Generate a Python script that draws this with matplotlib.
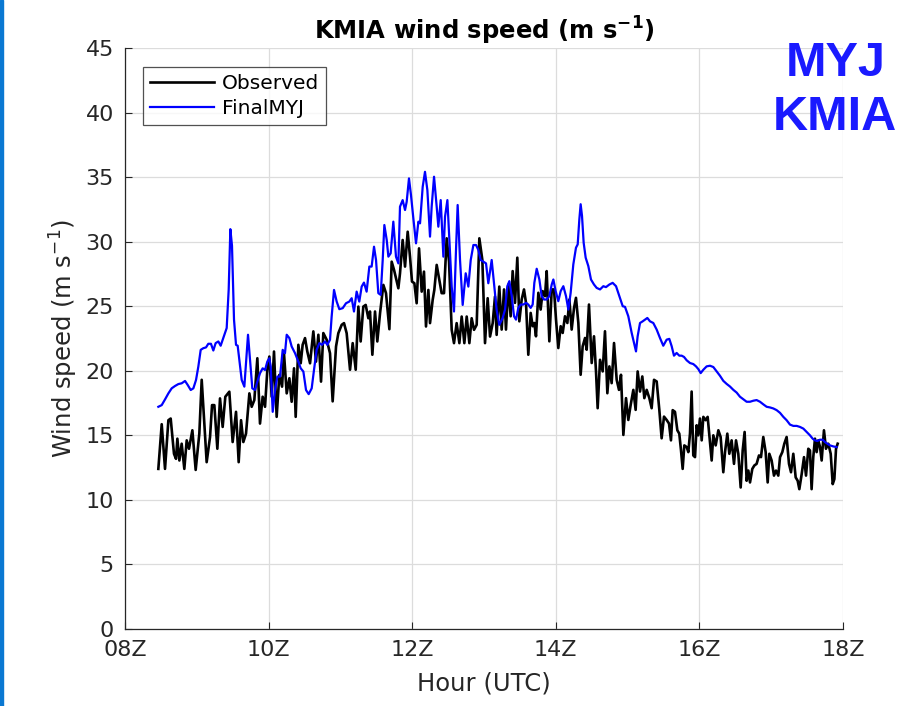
import numpy as np
import matplotlib
matplotlib.use("Agg")
import matplotlib.pyplot as plt
from matplotlib.patches import Rectangle

plt.rcParams['font.family'] = ['DejaVu Sans']
plt.rcParams['mathtext.fontset'] = 'dejavusans'

# observed wind speed (hour UTC, m/s)
obs_hour = [
    8.464, 8.511, 8.557, 8.604, 8.636, 8.682, 8.710, 8.729, 8.757, 8.789,
    8.826, 8.859, 8.891, 8.938, 8.984, 9.035, 9.068, 9.137, 9.184, 9.212,
    9.244, 9.286, 9.323, 9.360, 9.397, 9.453, 9.499, 9.546, 9.583, 9.616,
    9.648, 9.685, 9.732, 9.764, 9.801, 9.843, 9.880, 9.917, 9.950, 9.982,
    10.010, 10.043, 10.075, 10.112, 10.149, 10.187, 10.214, 10.252, 10.289, 10.321,
    10.354, 10.377, 10.414, 10.447, 10.474, 10.507, 10.539, 10.577, 10.623, 10.660,
    10.693, 10.730, 10.762, 10.809, 10.855,
    10.892, 10.939, 10.971, 11.018, 11.050, 11.087, 11.134, 11.171, 11.213, 11.250,
    11.282, 11.319, 11.352, 11.389, 11.412, 11.445, 11.482, 11.514, 11.552, 11.598,
    11.635, 11.682, 11.714, 11.747, 11.774, 11.807, 11.830, 11.867, 11.900, 11.937,
    11.969, 11.997, 12.030, 12.062, 12.095, 12.132, 12.164, 12.192, 12.225, 12.248,
    12.285, 12.308, 12.341, 12.378, 12.410, 12.443, 12.480, 12.513, 12.550, 12.582,
    12.619, 12.657, 12.689, 12.726, 12.759, 12.796, 12.828, 12.861, 12.898, 12.935,
    12.977, 13.014, 13.051, 13.084, 13.121, 13.153, 13.176, 13.213,
    13.246, 13.279, 13.306, 13.339, 13.371, 13.399, 13.432, 13.464, 13.492, 13.525,
    13.557, 13.585, 13.617, 13.650, 13.678, 13.701, 13.724, 13.757, 13.789, 13.817,
    13.850, 13.873, 13.910, 13.943, 13.975, 14.003, 14.035, 14.068, 14.096, 14.128,
    14.161, 14.189, 14.221, 14.254, 14.281, 14.314, 14.346, 14.374, 14.407, 14.430,
    14.462, 14.500, 14.532, 14.560, 14.583, 14.616, 14.653, 14.685, 14.718, 14.746,
    14.778, 14.811, 14.848, 14.880, 14.908, 14.941, 14.978, 15.010, 15.043, 15.080,
    15.112, 15.140, 15.173, 15.205, 15.233, 15.266, 15.303, 15.335, 15.368, 15.405,
    15.442, 15.474, 15.507, 15.544,
    15.577, 15.604, 15.628, 15.660, 15.693, 15.720, 15.744, 15.767, 15.790, 15.823,
    15.846, 15.869, 15.892, 15.915, 15.939, 15.962, 15.985, 16.008, 16.032, 16.055,
    16.087, 16.115, 16.148, 16.171, 16.194, 16.227, 16.264, 16.296, 16.333, 16.357,
    16.389, 16.417, 16.449, 16.482, 16.510, 16.542, 16.575, 16.603, 16.630, 16.658,
    16.682, 16.705, 16.737, 16.765, 16.797, 16.830, 16.858, 16.890, 16.923, 16.951,
    16.974, 17.006, 17.039, 17.067, 17.099, 17.123, 17.155, 17.183, 17.215, 17.248,
    17.276, 17.308, 17.341, 17.369, 17.392, 17.425, 17.457, 17.485, 17.517, 17.540,
    17.563, 17.586, 17.610, 17.633, 17.656, 17.680, 17.703, 17.735, 17.763, 17.796,
    17.829, 17.857, 17.880, 17.903, 17.926,
]
obs_speed = [
    12.40, 15.86, 12.40, 16.17, 16.30, 13.57, 13.18, 14.74, 13.05, 14.35,
    12.40, 14.61, 13.96, 15.39, 12.32, 15.13, 19.30, 12.92, 14.87, 17.34,
    17.34, 13.96, 17.86, 15.65, 17.99, 18.38, 14.48, 16.82, 12.92, 16.17,
    14.48, 15.13, 18.25, 17.21, 17.73, 20.97, 15.91, 17.99, 17.21, 20.06,
    21.10, 17.99, 21.49, 16.43, 19.68, 18.77, 21.36, 18.25, 19.42, 17.60,
    20.19, 16.43, 22.01, 20.58, 22.01, 22.53, 21.49, 20.58, 23.05, 20.71,
    22.79, 19.16, 22.92, 22.40, 21.36,
    17.63, 21.88, 22.91, 23.56, 23.69, 22.91, 20.08, 22.14, 20.08, 24.97,
    22.27, 24.97, 25.10, 24.07, 24.59, 21.24, 24.59, 22.27, 24.46, 26.65,
    26.01, 23.22, 28.45, 27.81, 27.16, 26.39, 27.55, 30.13, 28.07, 30.77,
    28.84, 26.91, 26.78, 25.23, 29.48, 26.13, 27.68, 23.43, 26.26, 23.69,
    25.49, 26.26, 28.20, 27.04, 26.01, 26.01, 30.26, 28.45, 23.17, 22.14,
    23.69, 22.14, 24.20, 22.14, 24.20, 22.14, 24.07, 23.17, 23.56, 30.26,
    28.58, 22.14, 25.62, 22.65, 23.69, 25.75, 22.78, 26.52,
    23.19, 26.30, 23.19, 26.68, 24.22, 27.72, 25.26, 28.76, 23.83, 25.52,
    26.30, 25.26, 21.24, 24.48, 23.45, 23.70, 22.67, 26.04, 24.74, 26.17,
    25.78, 27.72, 22.28, 26.30, 26.30, 23.96, 21.76, 23.45, 22.93, 24.22,
    23.70, 25.52, 23.19, 24.87, 25.65, 23.70, 19.69, 21.89, 22.54, 21.63,
    25.13, 20.60, 22.67, 19.95, 17.10, 20.85, 19.95, 23.06, 18.26, 20.34,
    19.04, 22.15, 19.30, 18.52, 19.69, 15.03, 17.88, 16.19, 17.36, 18.52,
    16.97, 19.95, 18.39, 19.56, 17.88, 18.52, 17.88, 17.10, 19.30, 19.17,
    16.97, 14.77, 16.45, 16.19,
    15.91, 14.61, 16.95, 16.82, 15.39, 15.13, 13.83, 12.40, 14.22, 14.09,
    13.70, 15.13, 18.39, 13.44, 13.31, 15.78, 15.00, 16.30, 14.61, 16.43,
    16.17, 16.43, 14.48, 13.05, 15.00, 14.22, 15.39, 14.87, 12.14, 13.70,
    15.13, 13.57, 14.61, 12.79, 14.61, 13.57, 10.96, 13.83, 15.26, 11.48,
    12.27, 11.35, 12.40, 12.66, 12.79, 13.44, 13.31, 14.87, 13.70, 11.35,
    13.57, 13.05, 11.88, 12.27, 11.88, 13.31, 13.70, 14.35, 14.87, 12.79,
    12.14, 13.57, 11.74, 11.48, 10.83, 12.01, 13.31, 11.88, 13.96, 13.83,
    10.83, 13.31, 14.74, 13.70, 14.61, 14.09, 13.05, 15.39, 13.96, 14.35,
    13.57, 11.22, 11.61, 13.96, 14.35,
]

# FinalMYJ model wind speed
myj_hour = [
    8.464, 8.511, 8.557, 8.604, 8.650, 8.696, 8.743, 8.789, 8.836, 8.873,
    8.915, 8.952, 8.989, 9.021, 9.054, 9.091, 9.128, 9.160, 9.197, 9.230,
    9.262, 9.300, 9.332, 9.360, 9.393, 9.416, 9.444, 9.467, 9.490, 9.518,
    9.546, 9.569, 9.592, 9.625, 9.662, 9.694, 9.713, 9.741, 9.773, 9.810,
    9.843, 9.880, 9.917, 9.950, 9.982, 10.010, 10.029, 10.057, 10.089, 10.122,
    10.159, 10.196, 10.228, 10.252, 10.289, 10.321, 10.368, 10.405, 10.447, 10.484,
    10.521, 10.558, 10.600, 10.632, 10.669, 10.707, 10.744, 10.786, 10.818, 10.855,
    10.878, 10.911, 10.948, 10.985, 11.032, 11.078, 11.124, 11.157, 11.189, 11.226,
    11.263, 11.296, 11.328, 11.365, 11.403, 11.435, 11.468, 11.496, 11.528, 11.561,
    11.589, 11.612, 11.645, 11.668, 11.700, 11.737, 11.774, 11.807, 11.830, 11.867,
    11.900, 11.923, 11.955, 11.983, 12.016, 12.053, 12.086, 12.109, 12.146, 12.178,
    12.211, 12.248, 12.271, 12.304, 12.341, 12.364, 12.397, 12.434, 12.457, 12.490,
    12.518, 12.550, 12.582, 12.610, 12.633, 12.666, 12.703, 12.745, 12.782, 12.815,
    12.852, 12.889, 12.921, 12.954, 12.991, 13.028, 13.060, 13.107, 13.139, 13.176,
    13.213,
    13.260, 13.293, 13.325, 13.353, 13.386, 13.418, 13.446, 13.478, 13.511, 13.548,
    13.585, 13.617, 13.650, 13.678, 13.701, 13.734, 13.771, 13.803, 13.836, 13.873,
    13.910, 13.943, 13.966, 13.998, 14.035, 14.068, 14.105, 14.142, 14.175, 14.207,
    14.244, 14.281, 14.305, 14.328, 14.346, 14.365, 14.388, 14.416, 14.453, 14.490,
    14.532, 14.569, 14.616, 14.662, 14.699, 14.746, 14.792, 14.839, 14.885, 14.932,
    14.964, 15.010, 15.057, 15.089, 15.117, 15.140, 15.173, 15.210, 15.242, 15.275,
    15.312, 15.358, 15.405, 15.451, 15.497, 15.544,
    15.581, 15.614, 15.646, 15.683, 15.720, 15.753, 15.786, 15.823, 15.869, 15.915,
    15.953, 15.985, 16.018, 16.055, 16.101, 16.148, 16.194, 16.241, 16.287, 16.333,
    16.380, 16.426, 16.473, 16.519, 16.565, 16.612, 16.658, 16.705, 16.751, 16.797,
    16.844, 16.890, 16.937, 16.983, 17.030, 17.076, 17.123, 17.169, 17.215, 17.262,
    17.308, 17.355, 17.401, 17.448, 17.494, 17.540, 17.578, 17.610, 17.643, 17.680,
    17.717, 17.749, 17.782, 17.819, 17.865, 17.911,
]
myj_speed = [
    17.21, 17.34, 17.78, 18.25, 18.64, 18.82, 18.97, 19.03, 19.21, 18.90,
    18.51, 18.64, 19.29, 20.32, 21.62, 21.75, 21.81, 22.09, 22.09, 21.57,
    22.14, 22.27, 21.94, 22.40, 22.92, 23.31, 26.30, 30.97, 29.68, 23.96,
    22.01, 21.94, 20.84, 19.29, 18.77, 21.36, 22.79, 20.84, 18.64, 18.51,
    19.16, 19.81, 20.19, 20.06, 20.71, 20.97, 20.32, 16.82, 18.51, 19.55,
    19.55, 21.62, 21.36, 22.79, 22.53, 21.88, 21.36, 20.84, 20.19, 19.94,
    18.51, 18.19, 18.64, 20.06, 21.62, 22.14, 22.01, 22.27, 22.01, 22.40,
    24.20, 26.26, 25.36, 24.77, 24.85, 25.23, 25.36, 25.62, 24.59, 26.13,
    25.36, 26.52, 26.83, 26.13, 28.07, 28.07, 29.61, 28.58, 26.01, 25.88,
    28.58, 31.29, 30.13, 28.84, 29.10, 31.55, 28.84, 28.32, 32.71, 33.22,
    32.45, 33.09, 34.90, 33.61, 31.80, 29.87, 31.55, 31.42, 34.25, 35.41,
    34.00, 30.39, 32.71, 35.03, 32.71, 31.16, 33.22, 28.84, 31.93, 33.22,
    30.13, 26.52, 24.59, 29.36, 32.84, 28.58, 25.10, 27.55, 26.52, 28.58,
    29.74, 29.74, 29.36, 28.58, 28.45, 28.32, 26.78, 28.58, 26.78, 24.72,
    23.56,
    24.09, 24.74, 26.55, 26.94, 25.78, 24.22, 23.96, 24.87, 25.13, 25.13,
    25.26, 25.13, 24.87, 25.13, 26.81, 27.90, 27.07, 25.78, 25.52, 25.52,
    25.78, 26.68, 27.07, 26.17, 25.39, 26.17, 26.55, 25.78, 24.74, 26.04,
    28.24, 29.53, 29.79, 31.74, 32.90, 32.00, 29.92, 28.76, 28.11, 27.07,
    26.68, 26.42, 26.30, 26.55, 26.48, 26.68, 26.81, 26.55, 25.78, 25.00,
    24.95, 24.22, 22.93, 22.15, 21.50, 22.67, 23.70, 23.83, 23.96, 24.09,
    23.83, 23.70, 23.19, 22.54, 21.94, 22.41,
    22.47, 21.90, 21.17, 21.38, 21.17, 21.17, 21.07, 20.81, 20.60, 20.52,
    20.34, 20.13, 19.82, 20.08, 20.34, 20.39, 20.29, 19.95, 19.61, 19.22,
    18.98, 18.78, 18.52, 18.31, 17.99, 17.79, 17.60, 17.60, 17.68, 17.73,
    17.60, 17.40, 17.21, 17.16, 17.08, 16.95, 16.74, 16.43, 16.17, 15.83,
    15.73, 15.73, 15.65, 15.52, 15.26, 15.00, 14.74, 14.61, 14.56, 14.66,
    14.66, 14.48, 14.35, 14.22, 14.14, 14.09,
]

x_ticks = [8, 10, 12, 14, 16, 18]
x_labels = ['08Z', '10Z', '12Z', '14Z', '16Z', '18Z']
y_ticks = list(range(0, 46, 5))

fig = plt.figure(figsize=(9.22, 7.06), dpi=100)
ax = fig.add_axes([0.1356, 0.1091, 0.7787, 0.8229])

ax.plot(obs_hour, obs_speed, color='k', lw=1.9, label='Observed')
ax.plot(myj_hour, myj_speed, color='#0000ff', lw=1.6, label='FinalMYJ')

ax.set_xlim(8, 18)
ax.set_ylim(0, 45)
ax.set_xticks(x_ticks)
ax.set_xticklabels(x_labels)
ax.set_yticks(y_ticks)
ax.grid(True, color='#dcdcdc', lw=0.9)
ax.set_axisbelow(True)
for s in ['top', 'right']:
    ax.spines[s].set_visible(False)
for s in ['left', 'bottom']:
    ax.spines[s].set_color('#262626')
    ax.spines[s].set_linewidth(0.9)
ax.tick_params(direction='in', length=5, width=0.8, colors='#262626',
               labelsize=16, pad=8)

ax.set_xlabel('Hour (UTC)', fontsize=17.5, color='#262626', labelpad=8)
ax.set_ylabel('Wind speed (m s$^{-1}$)', fontsize=17.5, color='#262626', labelpad=4)
ax.set_title('KMIA wind speed (m s$^{\\mathbf{-1}}$)', fontsize=17.5,
             fontweight='bold', pad=6)

leg = ax.legend(loc='upper left', bbox_to_anchor=(0.025, 0.967), fontsize=14.5,
                frameon=True, fancybox=False, edgecolor='#262626',
                handlelength=3.2, handletextpad=0.35, borderpad=0.35,
                labelspacing=0.3, borderaxespad=0)
leg.get_frame().set_linewidth(0.9)

fig.text(0.906, 0.872, 'MYJ\nKMIA', color='#1a1aff', fontsize=35,
         fontweight='bold', family='Liberation Sans', ha='center', va='center',
         linespacing=1.25)

# blue strip on the left edge
fig.patches.append(Rectangle((0, 0), 3 / 922, 1, transform=fig.transFigure,
                             color='#0a78d2', zorder=10))

fig.savefig('out.png', dpi=100)
